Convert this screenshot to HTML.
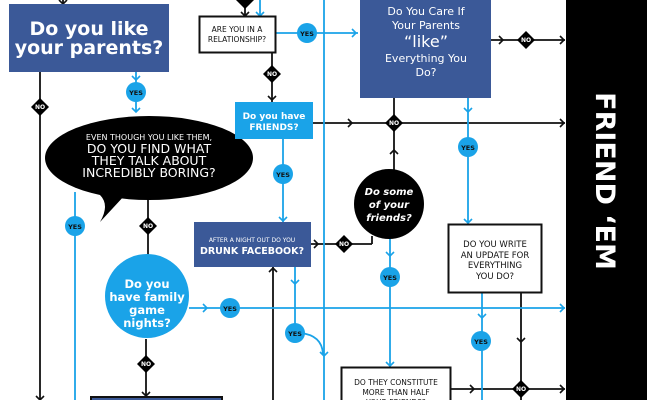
<!DOCTYPE html>
<html><head><meta charset="utf-8"><style>
html,body{margin:0;padding:0;background:#fff;}
svg{display:block;}
text{font-family:"DejaVu Sans","Liberation Sans",sans-serif;}
</style></head><body>
<svg width="647" height="400" viewBox="0 0 647 400" xmlns="http://www.w3.org/2000/svg" font-weight="bold">
<defs>
<g id="ab"><path d="M-4,-4 L0,0 L4,-4" fill="none" stroke="#111" stroke-width="1.6"/></g>
<g id="au"><path d="M-4,-4 L0,0 L4,-4" fill="none" stroke="#1aa3e8" stroke-width="1.6"/></g>
</defs>
<g stroke="#111" stroke-width="1.8" fill="none">
<line x1="63" y1="0" x2="63" y2="4"/>
<line x1="40" y1="72" x2="40" y2="400"/>
<line x1="148" y1="195" x2="148" y2="258"/>
<line x1="146" y1="339" x2="146" y2="396"/>
<line x1="245" y1="0" x2="245" y2="16"/>
<line x1="272" y1="53" x2="272" y2="102"/>
<line x1="313" y1="123" x2="565" y2="123"/>
<line x1="491" y1="40" x2="565" y2="40"/>
<line x1="394" y1="98" x2="394" y2="172"/>
<line x1="311" y1="244" x2="372" y2="244"/>
<line x1="372" y1="244" x2="372" y2="236"/>
<line x1="273" y1="267" x2="273" y2="400"/>
<line x1="521" y1="293" x2="521" y2="400"/>
<line x1="451" y1="389" x2="565" y2="389"/>
</g>
<g stroke="#1aa3e8" stroke-width="1.8" fill="none">
<line x1="136" y1="72" x2="136" y2="112"/>
<line x1="75" y1="192" x2="75" y2="400"/>
<line x1="189" y1="308" x2="565" y2="308"/>
<line x1="260" y1="0" x2="260" y2="16"/>
<line x1="276" y1="33" x2="358" y2="33"/>
<line x1="324" y1="0" x2="324" y2="400"/>
<line x1="283" y1="139" x2="283" y2="222"/>
<line x1="468" y1="98" x2="468" y2="224"/>
<line x1="390" y1="238" x2="390" y2="367"/>
<line x1="295" y1="267" x2="295" y2="333"/>
<path d="M300,333 Q322,335 323,354"/>
<line x1="482" y1="293" x2="482" y2="400"/>
</g>
<use href="#ab" x="63" y="4"/>
<use href="#ab" x="40" y="400"/>
<use href="#ab" x="148" y="261"/>
<use href="#ab" x="146" y="396"/>
<use href="#ab" x="245" y="16"/>
<use href="#ab" x="272" y="100"/>
<use href="#ab" transform="translate(352,123) rotate(-90)"/>
<use href="#ab" transform="translate(564,123) rotate(-90)"/>
<use href="#ab" transform="translate(503,40) rotate(-90)"/>
<use href="#ab" transform="translate(564,40) rotate(-90)"/>
<use href="#ab" transform="translate(394,150) rotate(180)"/>
<use href="#ab" transform="translate(318,244) rotate(-90)"/>
<use href="#ab" transform="translate(273,268) rotate(180)"/>
<use href="#ab" x="521" y="342"/>
<use href="#ab" transform="translate(474,389) rotate(-90)"/>
<use href="#ab" transform="translate(564,389) rotate(-90)"/>
<use href="#au" x="136" y="80"/>
<use href="#au" x="136" y="112"/>
<use href="#au" transform="translate(207,308) rotate(-90)"/>
<use href="#au" transform="translate(564,308) rotate(-90)"/>
<use href="#au" x="260" y="16"/>
<use href="#au" transform="translate(356,33) rotate(-90)"/>
<use href="#au" x="283" y="221"/>
<use href="#au" x="468" y="112"/>
<use href="#au" x="468" y="223"/>
<use href="#au" x="390" y="256"/>
<use href="#au" x="390" y="366"/>
<use href="#au" x="295" y="284"/>
<use href="#au" x="324" y="356"/>
<use href="#au" x="482" y="318"/>
<rect x="566" y="0" width="81" height="400" fill="#000"/>
<text transform="translate(596,181) rotate(90)" text-anchor="middle" fill="#fff" font-size="27">FRIEND ‘EM</text>
<rect x="9" y="4" width="160" height="68" fill="#3b5998"/>
<text x="89" y="35" text-anchor="middle" fill="#fff" font-size="19">Do you like</text>
<text x="89" y="54" text-anchor="middle" fill="#fff" font-size="19">your parents?</text>
<path d="M100,222 Q110,205 100,195 L125,195 Z" fill="#000"/>
<ellipse cx="149" cy="158" rx="104" ry="42" fill="#000"/>
<text x="149" y="140" text-anchor="middle" fill="#fff" font-size="8" font-weight="normal">EVEN THOUGH YOU LIKE THEM,</text>
<text x="149" y="153" text-anchor="middle" fill="#fff" font-size="12.5" font-weight="normal">DO YOU FIND WHAT</text>
<text x="149" y="165" text-anchor="middle" fill="#fff" font-size="12.5" font-weight="normal">THEY TALK ABOUT</text>
<text x="149" y="177" text-anchor="middle" fill="#fff" font-size="12.5" font-weight="normal">INCREDIBLY BORING?</text>
<circle cx="147" cy="296" r="42" fill="#1aa3e8"/>
<g fill="#fff" font-size="11.5" text-anchor="middle">
<text x="147" y="288">Do you</text>
<text x="147" y="301">have family</text>
<text x="147" y="314">game</text>
<text x="147" y="327">nights?</text>
</g>
<rect x="199.5" y="16.5" width="76" height="36" fill="#fff" stroke="#111" stroke-width="2"/>
<text x="237" y="32" text-anchor="middle" font-size="7.5" font-weight="normal" fill="#111">ARE YOU IN A</text>
<text x="237" y="42" text-anchor="middle" font-size="7.5" font-weight="normal" fill="#111">RELATIONSHIP?</text>
<rect x="235" y="102" width="78" height="37" fill="#1aa3e8"/>
<text x="274" y="119" text-anchor="middle" font-size="9" fill="#fff">Do you have</text>
<text x="274" y="130" text-anchor="middle" font-size="9" fill="#fff">FRIENDS?</text>
<rect x="360" y="0" width="131" height="98" fill="#3b5998"/>
<g fill="#fff" text-anchor="middle" font-weight="normal">
<text x="426" y="15" font-size="11">Do You Care If</text>
<text x="426" y="29" font-size="11">Your Parents</text>
<text x="426" y="47" font-size="16">“like”</text>
<text x="426" y="62" font-size="11">Everything You</text>
<text x="426" y="76" font-size="11">Do?</text>
</g>
<circle cx="389" cy="204" r="35" fill="#000"/>
<g fill="#fff" text-anchor="middle" font-size="10" font-style="italic">
<text x="389" y="195">Do some</text>
<text x="389" y="208">of your</text>
<text x="389" y="221">friends?</text>
</g>
<rect x="194" y="222" width="117" height="45" fill="#3b5998"/>
<text x="252" y="242" text-anchor="middle" font-size="6" font-weight="normal" fill="#fff">AFTER A NIGHT OUT DO YOU</text>
<text x="252" y="254" text-anchor="middle" font-size="9.5" fill="#fff">DRUNK FACEBOOK?</text>
<rect x="448.5" y="224.5" width="93" height="68" fill="#fff" stroke="#111" stroke-width="2"/>
<g font-size="8.5" font-weight="normal" fill="#111" text-anchor="middle">
<text x="495" y="247">DO YOU WRITE</text>
<text x="495" y="258">AN UPDATE FOR</text>
<text x="495" y="268">EVERYTHING</text>
<text x="495" y="279">YOU DO?</text>
</g>
<rect x="341.5" y="367.5" width="109" height="40" fill="#fff" stroke="#111" stroke-width="2"/>
<g font-size="7.5" font-weight="normal" fill="#111" text-anchor="middle">
<text x="396" y="385">DO THEY CONSTITUTE</text>
<text x="396" y="395">MORE THAN HALF</text>
<text x="396" y="405">YOUR FRIENDS?</text>
</g>
<rect x="91" y="397" width="131" height="10" fill="#3b5998" stroke="#111" stroke-width="2"/>
<g font-size="6.5" text-anchor="middle" fill="#111">
<circle cx="136" cy="92" r="10" fill="#1aa3e8"/><text x="136" y="95">YES</text>
<circle cx="75" cy="226" r="10" fill="#1aa3e8"/><text x="75" y="229">YES</text>
<circle cx="230" cy="308" r="10" fill="#1aa3e8"/><text x="230" y="311">YES</text>
<circle cx="307" cy="33" r="10" fill="#1aa3e8"/><text x="307" y="36">YES</text>
<circle cx="283" cy="174" r="10" fill="#1aa3e8"/><text x="283" y="177">YES</text>
<circle cx="468" cy="147" r="10" fill="#1aa3e8"/><text x="468" y="150">YES</text>
<circle cx="390" cy="277" r="10" fill="#1aa3e8"/><text x="390" y="280">YES</text>
<circle cx="295" cy="333" r="10" fill="#1aa3e8"/><text x="295" y="336">YES</text>
<circle cx="481" cy="341" r="10" fill="#1aa3e8"/><text x="481" y="344">YES</text>
</g>
<g font-size="6" text-anchor="middle" fill="#fff">
<path d="M40,98 L49,107 L40,116 L31,107 Z" fill="#000"/><text x="40" y="109">NO</text>
<path d="M148,217 L157,226 L148,235 L139,226 Z" fill="#000"/><text x="148" y="228">NO</text>
<path d="M146,355 L155,364 L146,373 L137,364 Z" fill="#000"/><text x="146" y="366">NO</text>
<path d="M245,-9 L254,0 L245,9 L236,0 Z" fill="#000"/>
<path d="M272,65 L281,74 L272,83 L263,74 Z" fill="#000"/><text x="272" y="76">NO</text>
<path d="M394,114 L403,123 L394,132 L385,123 Z" fill="#000"/><text x="394" y="125">NO</text>
<path d="M526,31 L535,40 L526,49 L517,40 Z" fill="#000"/><text x="526" y="42">NO</text>
<path d="M344,235 L353,244 L344,253 L335,244 Z" fill="#000"/><text x="344" y="246">NO</text>
<path d="M521,380 L530,389 L521,398 L512,389 Z" fill="#000"/><text x="521" y="391">NO</text>
</g>
</svg>
</body></html>
